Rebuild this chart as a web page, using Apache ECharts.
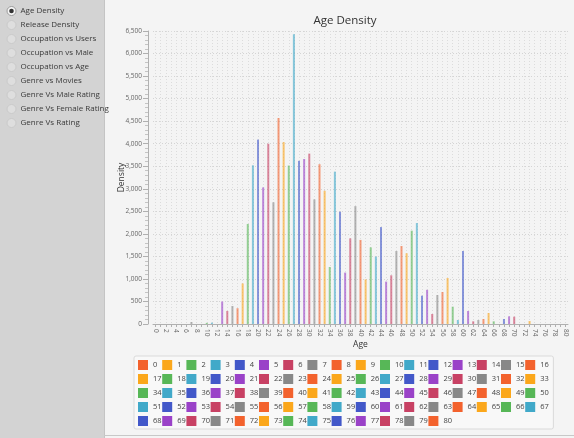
<!DOCTYPE html>
<html>
<head>
<meta charset="utf-8">
<script src="https://cdn.jsdelivr.net/npm/echarts@6/dist/echarts.min.js"></script>
<style>
html,body{margin:0;padding:0;background:#f4f4f4;}
#chart{width:574px;height:438px;}
</style>
</head>
<body>
<div id="chart"></div>
<script>
// ---- data ----
const ages = ['0','1','2','3','4','5','6','7','8','9','10','11','12','13','14','15','16','17','18','19','20',
  '21','22','23','24','25','26','27','28','29','30','31','32','33','34','35','36','37','38','39','40',
  '41','42','43','44','45','46','47','48','49','50','51','52','53','54','55','56','57','58','59','60',
  '61','62','63','64','65','66','67','68','69','70','71','72','73','74','75','76','77','78','79','80'];
const density = [0,0,0,0,0,0,0,45,0,0,25,30,0,500,290,400,350,900,2220,3520,4090,
  3030,4000,2700,4570,4035,3515,6430,3620,3660,3780,2765,3545,2955,1265,3380,2490,1140,1900,2615,1865,
  990,1700,1495,2150,940,1080,1620,1730,1570,2070,2240,628,758,222,643,710,1020,384,89,1619,
  288,59,89,111,244,59,0,111,170,163,0,0,67,0,0,0,0,0,0,0];
const palette = ['#f3622d','#fba71b','#57b757','#41a9c9','#4258c9','#9a42c8','#c84164','#888888'];
const menuItems = ['Age Density','Release Density','Occupation vs Users','Occupation vs Male',
  'Occupation vs Age','Genre vs Movies','Genre Vs Male Rating','Genre Vs Female Rating','Genre Vs Rating'];
const yTicks = {min: 0, max: 6500, interval: 500};

const FONT = '"Open Sans", "Noto Sans", sans-serif';
const chart = echarts.init(document.getElementById('chart'), null, {renderer: 'canvas'});

const series = ages.map((a, i) => ({
  name: a,
  type: 'bar',
  stack: 'age',
  barWidth: 2,
  itemStyle: {color: palette[i % 8], opacity: 0.62},
  emphasis: {disabled: true},
  data: ages.map((_, j) => (j === i && density[i] > 0) ? density[i] : null)
}));

const graphics = [
  {type: 'rect', shape: {x: 0, y: 0, width: 104, height: 438}, style: {fill: '#d3d3d3'}, z: 100},
  {type: 'line', shape: {x1: 104.5, y1: 0, x2: 104.5, y2: 438}, style: {stroke: '#c4c4c4', lineWidth: 1}, z: 100},
  {type: 'line', shape: {x1: 104, y1: 435.5, x2: 574, y2: 435.5}, style: {stroke: '#c8c8c8', lineWidth: 1}, z: 100}
];
menuItems.forEach((t, k) => {
  const cy = 11 + k * 14;
  graphics.push({type: 'circle', shape: {cx: 11.5, cy: cy, r: 4.5},
    style: {fill: k === 0 ? '#f6f6f6' : '#dedede', stroke: k === 0 ? '#9a9a9a' : '#cacaca', lineWidth: 1}, z: 101});
  if (k === 0) graphics.push({type: 'circle', shape: {cx: 11.5, cy: cy, r: 2.3}, style: {fill: '#333333'}, z: 102});
  graphics.push({type: 'text', x: 20.5, y: cy,
    style: {text: t, fill: '#3a3a3a', font: '8px ' + FONT, textVerticalAlign: 'middle', textAlign: 'left'}, z: 101});
});

chart.setOption({
  backgroundColor: '#f4f4f4',
  animation: false,
  textStyle: {fontFamily: FONT},
  title: {
    text: 'Age Density', left: 340, top: 10, textAlign: 'center',
    textStyle: {fontSize: 11.5, fontWeight: 'normal', color: '#333333', fontFamily: FONT}
  },
  grid: {left: 153, top: 31, width: 415, bottom: 114, containLabel: false},
  xAxis: {
    type: 'category',
    data: ages,
    name: 'Age', nameLocation: 'middle', nameGap: 16, nameMoveOverlap: false,
    nameTextStyle: {fontSize: 8.5, color: '#333333', fontFamily: FONT},
    axisLine: {lineStyle: {color: '#b0b0b0', width: 1}},
    axisTick: {show: true, interval: 0, alignWithLabel: true, length: 3, lineStyle: {color: '#b0b0b0'}},
    axisLabel: {interval: 1, rotate: -90, margin: 5, fontSize: 6.5, color: '#666666', fontFamily: FONT},
    splitLine: {show: true, interval: 0, alignWithLabel: true, lineStyle: {color: '#dcdcdc', type: [1, 2], width: 1}}
  },
  yAxis: {
    type: 'value',
    min: yTicks.min, max: yTicks.max, interval: yTicks.interval,
    offset: 5,
    name: 'Density', nameLocation: 'middle', nameGap: 22, nameRotate: 90, nameMoveOverlap: false,
    nameTextStyle: {fontSize: 8.5, color: '#333333', fontFamily: FONT},
    axisLine: {show: true, lineStyle: {color: '#b0b0b0', width: 1}},
    axisTick: {show: true, length: 5, lineStyle: {color: '#b0b0b0'}},
    minorTick: {show: true, splitNumber: 5, length: 3, lineStyle: {color: '#c4c4c4'}},
    axisLabel: {margin: 6, fontSize: 6.5, color: '#666666', fontFamily: FONT,
      formatter: v => String(v).replace(/\B(?=(\d{3})+(?!\d))/g, ',')},
    splitLine: {show: true, lineStyle: {color: '#d4d4d4', type: [1, 2], width: 1}}
  },
  legend: {
    data: ages,
    left: 134, top: 356, width: 413,
    orient: 'horizontal',
    padding: [2, 4, 1, 4],
    itemGap: 0,
    itemWidth: 10, itemHeight: 10,
    icon: 'rect',
    backgroundColor: '#f8f8f8',
    borderColor: '#dadada', borderWidth: 1, borderRadius: 2,
    itemStyle: {opacity: 1},
    selectedMode: false,
    textStyle: {fontSize: 7.5, color: '#444444', fontFamily: FONT, width: 9.2, height: 14, lineHeight: 14}
  },
  graphic: graphics,
  series: series
});
</script>
</body>
</html>
